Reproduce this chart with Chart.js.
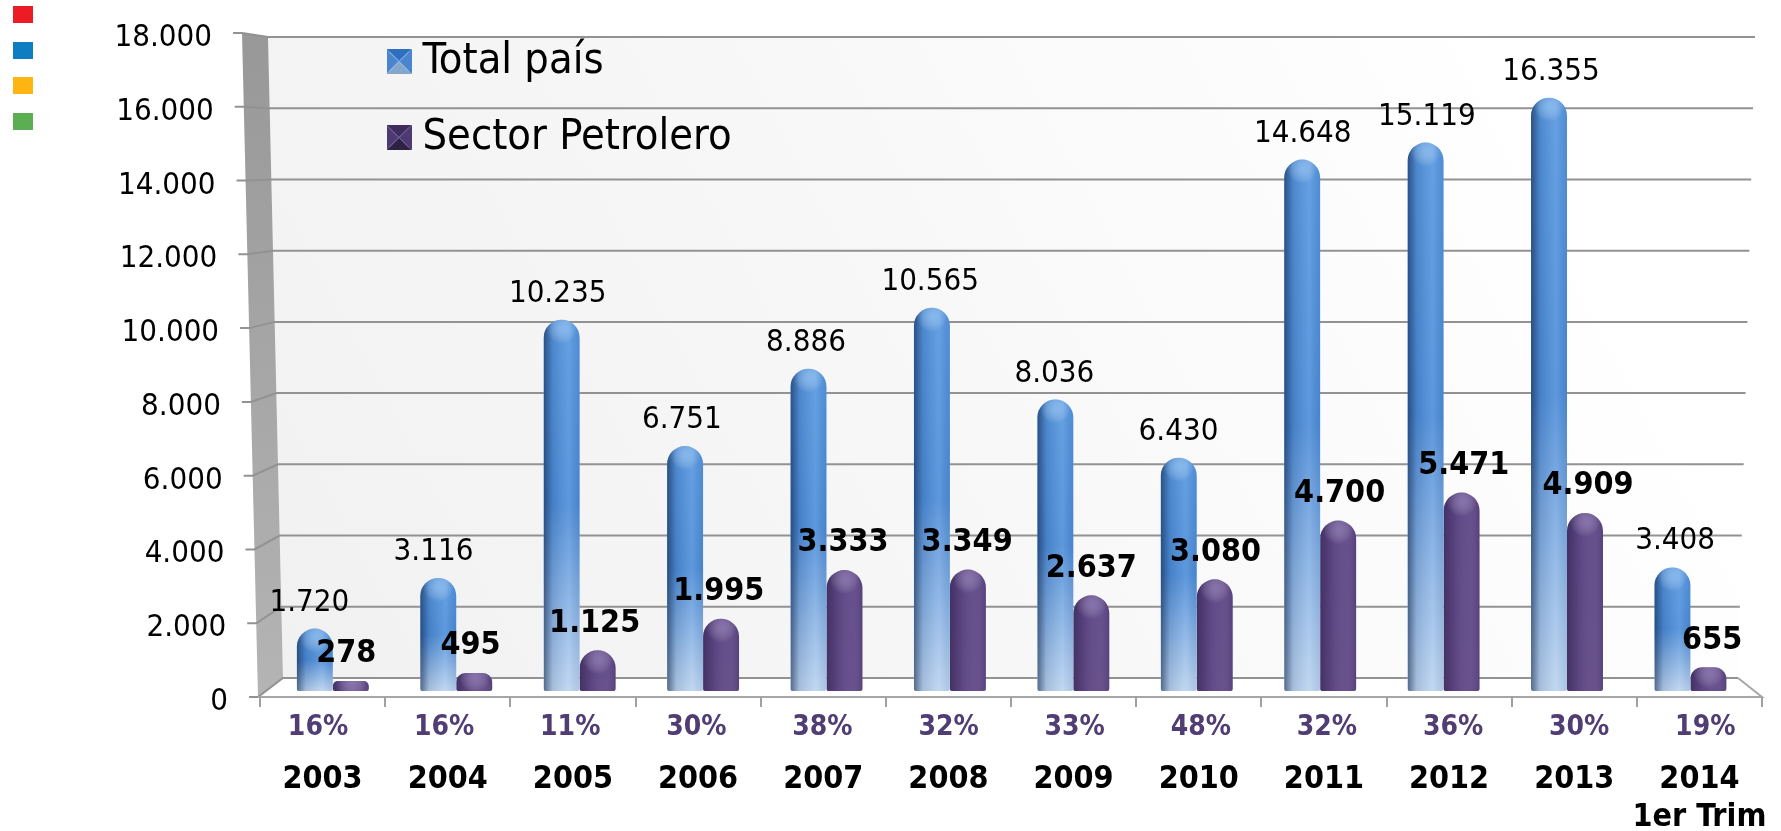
<!DOCTYPE html>
<html>
<head>
<meta charset="utf-8">
<title>Total país y Sector Petrolero</title>
<script src="https://cdn.jsdelivr.net/npm/chart.js@4/dist/chart.umd.min.js"></script>
<style>
    html, body { margin: 0; padding: 0; background: #fff; }
    #wrap { position: relative; width: 1781px; height: 831px; overflow: hidden; }
    canvas { display: block; }
    .dot { position: absolute; left: 13px; width: 20px; height: 17px; }
</style>
</head>
<body>
<div id="wrap">
    <canvas id="chart" width="1781" height="831"></canvas>
    <div class="dot" style="top:6px;background:#ed1c24"></div>
    <div class="dot" style="top:42px;background:#0f7dc2"></div>
    <div class="dot" style="top:77px;background:#ffb511"></div>
    <div class="dot" style="top:113px;background:#5cae53"></div>
</div>
<script>
const yearLabels = ['2003', '2004', '2005', '2006', '2007', '2008', '2009', '2010', '2011', '2012', '2013', ['2014', '1er Trim']];
const pctLabels = ['16%', '16%', '11%', '30%', '38%', '32%', '33%', '48%', '32%', '36%', '30%', '19%'];
const totalPais = [1720, 3116, 10235, 6751, 8886, 10565, 8036, 6430, 14648, 15119, 16355, 3408];
const sectorPetrolero = [278, 495, 1125, 1995, 3333, 3349, 2637, 3080, 4700, 5471, 4909, 655];

const SANS = "'DejaVu Sans Condensed', 'DejaVu Sans', sans-serif";

function fmt(v) {
    return String(v).replace(/\B(?=(\d{3})+$)/g, '.');
}

function toPoints(values) {
    return values.map((v, i) => ({ x: i, y: v }));
}

// one tick per category on the linear x scales
function indexTicks(scale) {
    scale.ticks = pctLabels.map((_, i) => ({ value: i }));
}

// small pyramid used as the legend marker
function legendIcon(top, side, bottom, mid) {
    const c = document.createElement('canvas');
    c.width = 25;
    c.height = 25;
    const g = c.getContext('2d');
    const tri = (pts, col) => {
        g.fillStyle = col;
        g.beginPath();
        g.moveTo(pts[0], pts[1]);
        g.lineTo(pts[2], pts[3]);
        g.lineTo(12.5, 12.5);
        g.closePath();
        g.fill();
    };
    tri([0, 0, 25, 0], top);
    tri([0, 0, 0, 25], side);
    tri([25, 0, 25, 25], side);
    tri([0, 25, 25, 25], bottom);
    g.strokeStyle = mid;
    g.lineWidth = 1;
    g.beginPath();
    g.moveTo(3, 3);
    g.lineTo(22, 22);
    g.moveTo(22, 3);
    g.lineTo(3, 22);
    g.stroke();
    return c;
}

function barFill(stops, solid) {
    return (ctx) => {
        if (ctx.type !== 'data' || !ctx.raw) return solid;
        const yScale = ctx.chart.scales.yBars;
        const g = ctx.chart.ctx.createLinearGradient(0, yScale.getPixelForValue(ctx.raw.y), 0, yScale.getPixelForValue(0));
        stops.forEach(s => g.addColorStop(s[0], s[1]));
        return g;
    };
}

// 3D box behind the bars: side wall, back wall, floor, grid lines, y labels
const wallsPlugin = {
    id: 'walls',
    beforeDraw(chart) {
        const { ctx, chartArea } = chart;
        const front = chart.scales.yFront;
        const back = chart.scales.yBack;
        const poly = (pts, fill) => {
            ctx.beginPath();
            pts.forEach((p, i) => i ? ctx.lineTo(p[0], p[1]) : ctx.moveTo(p[0], p[1]));
            ctx.closePath();
            ctx.fillStyle = fill;
            ctx.fill();
        };
        const y0 = back.getPixelForValue(0);
        const yTop = back.getPixelForValue(18000);
        const fy0 = front.getPixelForValue(0);
        const fyTop = front.getPixelForValue(18000);
        const backLeft = (y) => 268 + (y - yTop) / (y0 - yTop) * 15;
        const backRight = (y) => 1755 - (y - yTop) / (y0 - yTop) * 17;
        const sideFront = (y) => 242 + (y - fyTop) / (fy0 - fyTop) * 16;

        ctx.save();
        const wall = ctx.createLinearGradient(backLeft(y0), y0, 1500, yTop);
        wall.addColorStop(0, '#f1f1f1');
        wall.addColorStop(0.55, '#f8f8f8');
        wall.addColorStop(1, '#ffffff');
        poly([[backLeft(yTop), yTop], [backRight(yTop), yTop], [backRight(y0), y0], [backLeft(y0), y0]], wall);

        const side = ctx.createLinearGradient(0, fyTop, 0, fy0);
        side.addColorStop(0, '#989898');
        side.addColorStop(1, '#b4b4b4');
        poly([[sideFront(fyTop), fyTop], [backLeft(yTop), yTop], [backLeft(y0), y0], [sideFront(fy0), fy0]], side);

        ctx.lineWidth = 2;
        ctx.strokeStyle = '#929292';
        front.ticks.forEach(t => {
            const fy = front.getPixelForValue(t.value);
            const by = back.getPixelForValue(t.value);
            ctx.beginPath();
            ctx.moveTo(sideFront(fy) - 9, fy);
            ctx.lineTo(sideFront(fy), fy);
            ctx.lineTo(backLeft(by), by);
            ctx.lineTo(backRight(by), by);
            ctx.stroke();
        });

        // floor front edge
        ctx.strokeStyle = '#a6a6a6';
        ctx.beginPath();
        ctx.moveTo(backRight(y0), y0);
        ctx.lineTo(chartArea.right, fy0);
        ctx.lineTo(sideFront(fy0), fy0);
        ctx.stroke();

        // y labels lean with the wall
        ctx.fillStyle = '#000';
        ctx.font = '31px ' + SANS;
        ctx.textAlign = 'right';
        ctx.textBaseline = 'middle';
        front.ticks.forEach(t => {
            const fy = front.getPixelForValue(t.value);
            ctx.fillText(fmt(t.value), sideFront(fy) - 30, fy + 5);
        });
        ctx.restore();
    },
    afterLayout(chart) {
        // pct axis shares the band under the floor with the year axis
        const pct = chart.scales.xPct;
        pct.top = chart.chartArea.bottom;
        pct.bottom = chart.height;

        const lg = chart.legend;
        const w = lg.right - lg.left;
        const h = lg.bottom - lg.top;
        lg.left = 364;
        lg.top = 7;
        lg.right = lg.left + w;
        lg.bottom = lg.top + h;
    },
    // cylinder shading on top of the plain bars
    afterDatasetDraw(chart, args) {
        const { ctx } = chart;
        const purple = args.index === 1;
        args.meta.data.forEach(el => {
            const { x, y, base, width } = el.getProps(['x', 'y', 'base', 'width'], true);
            const h = base - y;
            const r = Math.min(18, width / 2, h / 2);
            const left = x - width / 2;
            ctx.save();
            ctx.beginPath();
            ctx.roundRect(left, y, width, h, [r, r, 2, 2]);
            ctx.clip();
            const g = ctx.createLinearGradient(left, 0, left + width, 0);
            if (purple) {
                g.addColorStop(0, 'rgba(20,10,40,0.38)');
                g.addColorStop(0.3, 'rgba(20,10,40,0.1)');
                g.addColorStop(0.7, 'rgba(255,255,255,0.04)');
                g.addColorStop(1, 'rgba(20,10,40,0.14)');
            } else {
                g.addColorStop(0, 'rgba(15,35,70,0.6)');
                g.addColorStop(0.25, 'rgba(15,35,70,0.12)');
                g.addColorStop(0.7, 'rgba(255,255,255,0.1)');
                g.addColorStop(1, 'rgba(15,35,70,0.08)');
            }
            ctx.fillStyle = g;
            ctx.fillRect(left, y, width, h);
            const glow = ctx.createRadialGradient(x, y + r * 0.5, 0, x, y + r * 0.5, width * 0.42);
            glow.addColorStop(0, purple ? 'rgba(190,170,225,0.4)' : 'rgba(170,215,255,0.5)');
            glow.addColorStop(1, 'rgba(255,255,255,0)');
            ctx.fillStyle = glow;
            ctx.fillRect(left, y, width, h);
            ctx.restore();
        });
    },
    afterDatasetsDraw(chart) {
        const { ctx } = chart;
        ctx.save();
        ctx.fillStyle = '#000';
        ctx.textAlign = 'center';
        ctx.textBaseline = 'middle';
        chart.data.datasets.forEach((ds, d) => {
            ctx.font = (d === 1 ? 'bold 32px ' : '31px ') + SANS;
            chart.getDatasetMeta(d).data.forEach((el, i) => {
                const dx = d === 1 ? -4.5 : -5.5;
                ctx.fillText(fmt(ds.data[i].y), el.x + dx + 0.75 * i, el.y - (d === 1 ? 27 : 26));
            });
        });
        ctx.restore();
    }
};

new Chart(document.getElementById('chart'), {
    type: 'bar',
    data: {
        datasets: [
            {
                label: 'Total país',
                data: toPoints(totalPais),
                xAxisID: 'xBars',
                yAxisID: 'yBars',
                backgroundColor: barFill([[0, '#5596e0'], [0.5, '#4c8cd8'], [1, '#bcd4f0']], '#4c8cd8'),
                borderWidth: 0,
                borderSkipped: false,
                borderRadius: { topLeft: 18, topRight: 18, bottomLeft: 2, bottomRight: 2 },
                categoryPercentage: 0.583,
                barPercentage: 1
            },
            {
                label: 'Sector Petrolero',
                data: toPoints(sectorPetrolero),
                xAxisID: 'xBars',
                yAxisID: 'yBars',
                backgroundColor: barFill([[0, '#5f4888'], [1, '#624a88']], '#5f4888'),
                borderWidth: 0,
                borderSkipped: false,
                borderRadius: { topLeft: 18, topRight: 18, bottomLeft: 2, bottomRight: 2 },
                categoryPercentage: 0.583,
                barPercentage: 1
            }
        ]
    },
    options: {
        responsive: false,
        animation: false,
        layout: { padding: { left: 260, right: 19, top: 33, bottom: 0 } },
        plugins: {
            tooltip: { enabled: false },
            legend: {
                position: 'chartArea',
                align: 'start',
                labels: {
                    color: '#000',
                    font: { family: SANS, size: 43 },
                    usePointStyle: true,
                    pointStyleWidth: 4,
                    boxHeight: 25,
                    padding: 33,
                    generateLabels: () => [
                        { text: 'Total país', pointStyle: legendIcon('#2f6fc0', '#4a86cf', '#86a6cc', '#a8c8ee'), fontColor: '#000', datasetIndex: 0, lineWidth: 0 },
                        { text: 'Sector Petrolero', pointStyle: legendIcon('#3d2c5c', '#4d3a70', '#2e2244', '#8a75b0'), fontColor: '#000', datasetIndex: 1, lineWidth: 0 }
                    ]
                }
            }
        },
        scales: {
            // bars stand a little in front of the back wall, hence their own scales
            xBars: { type: 'linear', display: false, offset: false, min: -0.59, max: 11.58, afterBuildTicks: indexTicks },
            yBars: { type: 'linear', display: false, min: -165, max: 18138 },
            yBack: { type: 'linear', display: false, min: -534, max: 18112 },
            yFront: { type: 'linear', display: false, min: 0, max: 18000, ticks: { stepSize: 2000 } },
            xYear: {
                type: 'category',
                labels: yearLabels,
                position: 'bottom',
                weight: 0,
                offset: true,
                border: { display: false },
                grid: { offset: true, drawOnChartArea: false, drawTicks: true, tickLength: 10, color: '#a0a0a0', lineWidth: 2 },
                ticks: {
                    color: '#000',
                    font: { family: SANS, size: 32, weight: 'bold', lineHeight: 1.2 },
                    padding: 53,
                    autoSkip: false,
                    maxRotation: 0
                },
                afterFit: (s) => { s.height = 134; s.paddingLeft = 0; s.paddingRight = 0; }
            },
            xPct: {
                type: 'linear',
                position: 'bottom',
                weight: 1,
                offset: false,
                min: -0.46,
                max: 11.45,
                border: { display: false },
                grid: { display: false, drawTicks: false },
                afterBuildTicks: indexTicks,
                ticks: {
                    color: '#4f3d73',
                    font: { family: SANS, size: 28, weight: 'bold', lineHeight: 1.2 },
                    padding: 14,
                    autoSkip: false,
                    maxRotation: 0,
                    callback: (v) => pctLabels[v]
                },
                afterFit: (s) => { s.height = 0; s.paddingLeft = 0; s.paddingRight = 0; }
            }
        }
    },
    plugins: [wallsPlugin]
});
</script>
</body>
</html>
